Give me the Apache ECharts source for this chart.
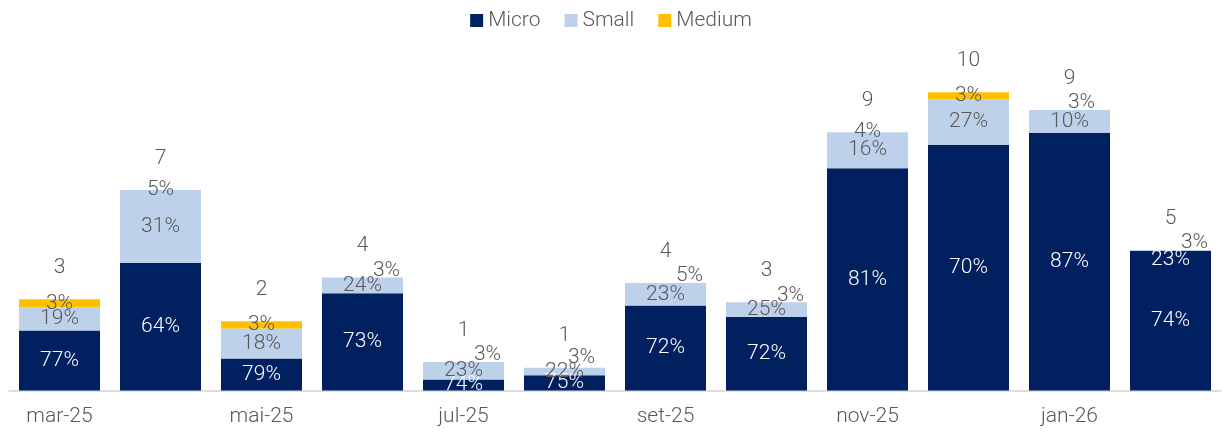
<!DOCTYPE html>
<html>
<head>
<meta charset="utf-8">
<script src="https://cdn.jsdelivr.net/npm/echarts@6/dist/echarts.min.js"></script>
<style>
  html, body { margin: 0; padding: 0; background: #fff; }
  #grafico { width: 1222px; height: 432px; }
</style>
</head>
<body>
<div id="grafico"></div>
<script>
// meses
var meses = ['mar-25', 'abr-25', 'mai-25', 'jun-25', 'jul-25', 'ago-25', 'set-25', 'out-25', 'nov-25', 'dez-25', 'jan-26', 'fev-26'];

// altura das barras
var microVal  = [2.00, 4.26, 1.07, 3.24, 0.37, 0.51, 2.83, 2.45, 7.41, 8.19, 8.59, 4.65];
var smallVal  = [0.77, 2.42, 1.00, 0.53, 0.58, 0.25, 0.75, 0.49, 1.20, 1.51, 0.76, 0.03];
var mediumVal = [0.27, 0.00, 0.24, 0.00, 0.00, 0.00, 0.00, 0.00, 0.00, 0.24, 0.00, 0.00];

// rótulos
var microPct  = [77, 64, 79, 73, 74, 75, 72, 72, 81, 70, 87, 74];
var smallPct  = [19, 31, 18, 24, 23, 22, 23, 25, 16, 27, 10, 23];
var mediumPct = [3, 5, 3, 3, 3, 3, 5, 3, 4, 3, 3, 3];
var totais    = [3, 7, 2, 4, 1, 1, 4, 3, 9, 10, 9, 5];

var myChart = echarts.init(document.getElementById('grafico'));

var fonte = 'Roboto';
var cinza = '#595959';
var tam = 21;

// rótulos do Medium deslocados para a direita (como no original)
var desloca = [0, 0, 0, 1, 1, 1, 1, 1, 0, 0, 1, 1];

var mediumData = mediumVal.map(function (v, i) {
    if (!desloca[i]) return { value: v };
    return { value: v, label: { offset: i === 10 ? [12, -7] : (i === 5 ? [17, -10] : [24, -7]) } };
});
var smallData = smallVal.map(function (v, i) {
    // último mês: rótulo caiu sobre a barra azul escura
    if (i === 11) return { value: v, label: { color: '#fff', offset: [0, 9] } };
    return { value: v };
});
var zeros = meses.map(function () { return 0; });

var option = {
    animation: false,
    textStyle: { fontFamily: fonte },
    legend: {
        top: 5,
        left: 'center',
        data: ['Micro', 'Small', 'Medium'],
        icon: 'rect',
        itemWidth: 13,
        itemHeight: 13,
        itemGap: 24,
        textStyle: { fontSize: tam, color: cinza, fontFamily: fonte, fontWeight: 300 }
    },
    grid: { left: 9, right: 1, top: 60.5, bottom: 41.5, containLabel: false },
    xAxis: {
        type: 'category',
        data: meses,
        axisLine: { lineStyle: { color: '#d4d4d4', width: 1.5 } },
        axisTick: { interval: 1, length: 7, lineStyle: { color: '#d4d4d4', width: 1.5 } },
        axisLabel: { interval: 1, fontSize: tam, color: cinza, fontFamily: fonte, fontWeight: 300, margin: 16 }
    },
    yAxis: { type: 'value', min: 0, max: 11, show: false },
    series: [{
        name: 'Micro',
        type: 'bar',
        stack: 'total',
        barWidth: 81,
        itemStyle: { color: '#002060' },
        label: {
            show: true, position: 'inside', color: '#fff', fontSize: tam, fontWeight: 300,
            formatter: function (p) { return microPct[p.dataIndex] + '%'; }
        },
        data: microVal
    }, {
        name: 'Small',
        type: 'bar',
        stack: 'total',
        itemStyle: { color: '#bdd1ea' },
        label: {
            show: true, position: 'inside', color: cinza, fontSize: tam, fontWeight: 300,
            formatter: function (p) { return smallPct[p.dataIndex] + '%'; }
        },
        data: smallData
    }, {
        name: 'Medium',
        type: 'bar',
        stack: 'total',
        itemStyle: { color: '#ffc000' },
        label: {
            show: true, position: 'inside', color: cinza, fontSize: tam, fontWeight: 300,
            formatter: function (p) { return mediumPct[p.dataIndex] + '%'; }
        },
        data: mediumData
    }, {
        name: 'Total',
        type: 'bar',
        stack: 'total',
        itemStyle: { color: 'transparent' },
        label: {
            show: true, position: 'top', distance: 21, color: cinza, fontSize: tam, fontWeight: 300,
            formatter: function (p) { return totais[p.dataIndex]; }
        },
        data: zeros
    }]
};

myChart.setOption(option);
</script>
</body>
</html>
